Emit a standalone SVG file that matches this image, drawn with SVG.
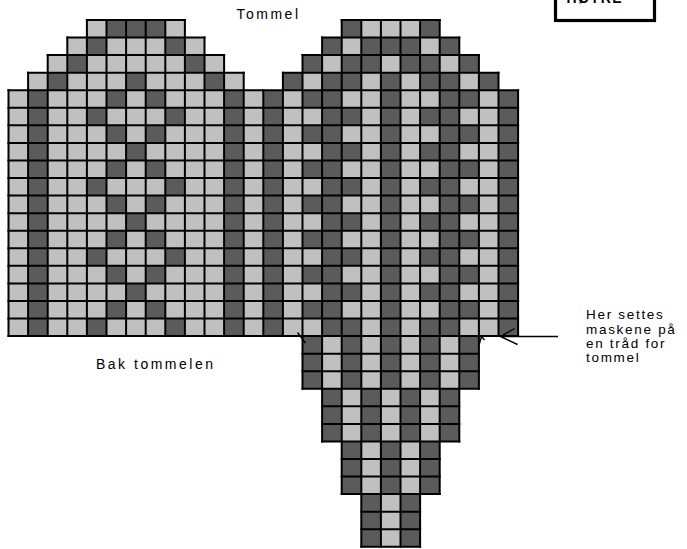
<svg xmlns="http://www.w3.org/2000/svg" width="687" height="549" viewBox="0 0 687 549">
<style>
.l{fill:#c0c0c0}
.d{fill:#5b5b5b}
.g{fill:none;stroke:#000;stroke-width:2;stroke-linecap:square}
.t{font-family:"Liberation Sans",Arial,sans-serif;font-size:14px;fill:#000}
.r{font-family:"Liberation Sans",Arial,sans-serif;font-size:13.5px;fill:#000;letter-spacing:1.7px}
.a{fill:none;stroke:#000;stroke-width:1.4}
</style>
<rect width="687" height="549" fill="#fff"/>
<g id="chart" transform="translate(8.5 20) scale(19.6 17.56)">
<polygon class="l" points="0,4 1,4 1,3 2,3 2,2 3,2 3,1 4,1 4,0 9,0 9,1 10,1 10,2 11,2 11,3 12,3 12,4 14,4 14,3 15,3 15,2 16,2 16,1 17,1 17,0 22,0 22,1 23,1 23,2 24,2 24,3 25,3 25,4 26,4 26,18 24,18 24,21 23,21 23,24 22,24 22,27 21,27 21,30 18,30 18,27 17,27 17,24 16,24 16,21 15,21 15,18 0,18"/>
<g id="dark">
<rect class="d" x="5" y="0" width="3" height="1"/>
<rect class="d" x="4" y="1" width="1" height="1"/><rect class="d" x="8" y="1" width="1" height="1"/>
<rect class="d" x="3" y="2" width="1" height="1"/><rect class="d" x="9" y="2" width="1" height="1"/>
<rect class="d" x="2" y="3" width="1" height="1"/><rect class="d" x="6" y="3" width="1" height="1"/><rect class="d" x="10" y="3" width="1" height="1"/>
<rect class="d" x="1" y="4" width="1" height="14"/>
<rect class="d" x="11" y="4" width="1" height="14"/>
<rect class="d" x="13" y="4" width="1" height="14"/>
<rect class="d" x="5" y="4" width="1" height="1"/><rect class="d" x="7" y="4" width="1" height="1"/>
<rect class="d" x="4" y="5" width="1" height="1"/><rect class="d" x="8" y="5" width="1" height="1"/>
<rect class="d" x="5" y="6" width="1" height="1"/><rect class="d" x="7" y="6" width="1" height="1"/>
<rect class="d" x="6" y="7" width="1" height="1"/>
<rect class="d" x="5" y="8" width="1" height="1"/><rect class="d" x="7" y="8" width="1" height="1"/>
<rect class="d" x="4" y="9" width="1" height="1"/><rect class="d" x="8" y="9" width="1" height="1"/>
<rect class="d" x="5" y="10" width="1" height="1"/><rect class="d" x="7" y="10" width="1" height="1"/>
<rect class="d" x="6" y="11" width="1" height="1"/>
<rect class="d" x="5" y="12" width="1" height="1"/><rect class="d" x="7" y="12" width="1" height="1"/>
<rect class="d" x="4" y="13" width="1" height="1"/><rect class="d" x="8" y="13" width="1" height="1"/>
<rect class="d" x="5" y="14" width="1" height="1"/><rect class="d" x="7" y="14" width="1" height="1"/>
<rect class="d" x="6" y="15" width="1" height="1"/>
<rect class="d" x="5" y="16" width="1" height="1"/><rect class="d" x="7" y="16" width="1" height="1"/>
<rect class="d" x="4" y="17" width="1" height="1"/><rect class="d" x="8" y="17" width="1" height="1"/>
<rect class="d" x="17" y="0" width="1" height="1"/><rect class="d" x="21" y="0" width="1" height="1"/>
<rect class="d" x="16" y="1" width="1" height="1"/><rect class="d" x="18" y="1" width="3" height="1"/><rect class="d" x="22" y="1" width="1" height="1"/>
<rect class="d" x="15" y="2" width="1" height="1"/><rect class="d" x="17" y="2" width="2" height="1"/><rect class="d" x="20" y="2" width="2" height="1"/><rect class="d" x="23" y="2" width="1" height="1"/>
<rect class="d" x="14" y="3" width="1" height="1"/><rect class="d" x="16" y="3" width="2" height="1"/><rect class="d" x="19" y="3" width="1" height="1"/><rect class="d" x="21" y="3" width="2" height="1"/><rect class="d" x="24" y="3" width="1" height="1"/>
<rect class="d" x="16" y="4" width="1" height="14"/>
<rect class="d" x="19" y="4" width="1" height="14"/>
<rect class="d" x="22" y="4" width="1" height="14"/>
<rect class="d" x="25" y="4" width="1" height="14"/>
<rect class="d" x="15" y="4" width="1" height="1"/><rect class="d" x="23" y="4" width="1" height="1"/>
<rect class="d" x="15" y="6" width="1" height="1"/><rect class="d" x="23" y="6" width="1" height="1"/>
<rect class="d" x="15" y="8" width="1" height="1"/><rect class="d" x="23" y="8" width="1" height="1"/>
<rect class="d" x="15" y="10" width="1" height="1"/><rect class="d" x="23" y="10" width="1" height="1"/>
<rect class="d" x="15" y="12" width="1" height="1"/><rect class="d" x="23" y="12" width="1" height="1"/>
<rect class="d" x="15" y="14" width="1" height="1"/><rect class="d" x="23" y="14" width="1" height="1"/>
<rect class="d" x="15" y="16" width="1" height="1"/><rect class="d" x="23" y="16" width="1" height="1"/>
<rect class="d" x="17" y="5" width="1" height="1"/><rect class="d" x="21" y="5" width="1" height="1"/>
<rect class="d" x="17" y="7" width="1" height="1"/><rect class="d" x="21" y="7" width="1" height="1"/>
<rect class="d" x="17" y="9" width="1" height="1"/><rect class="d" x="21" y="9" width="1" height="1"/>
<rect class="d" x="17" y="11" width="1" height="1"/><rect class="d" x="21" y="11" width="1" height="1"/>
<rect class="d" x="17" y="13" width="1" height="1"/><rect class="d" x="21" y="13" width="1" height="1"/>
<rect class="d" x="17" y="15" width="1" height="1"/><rect class="d" x="21" y="15" width="1" height="1"/>
<rect class="d" x="17" y="17" width="1" height="1"/><rect class="d" x="21" y="17" width="1" height="1"/>
<rect class="d" x="15" y="18" width="1" height="3"/><rect class="d" x="17" y="18" width="1" height="3"/><rect class="d" x="19" y="18" width="1" height="3"/><rect class="d" x="21" y="18" width="1" height="3"/><rect class="d" x="23" y="18" width="1" height="3"/>
<rect class="d" x="16" y="21" width="1" height="3"/><rect class="d" x="18" y="21" width="1" height="3"/><rect class="d" x="20" y="21" width="1" height="3"/><rect class="d" x="22" y="21" width="1" height="3"/>
<rect class="d" x="17" y="24" width="1" height="3"/><rect class="d" x="19" y="24" width="1" height="3"/><rect class="d" x="21" y="24" width="1" height="3"/>
<rect class="d" x="18" y="27" width="1" height="3"/><rect class="d" x="20" y="27" width="1" height="3"/>
</g>
<path class="g" vector-effect="non-scaling-stroke" d="M4 0H9M17 0H22M3 1H10M16 1H23M2 2H11M15 2H24M1 3H12M14 3H25M0 4H26M0 5H26M0 6H26M0 7H26M0 8H26M0 9H26M0 10H26M0 11H26M0 12H26M0 13H26M0 14H26M0 15H26M0 16H26M0 17H26M0 18H26M15 19H24M15 20H24M15 21H24M16 22H23M16 23H23M16 24H23M17 25H22M17 26H22M17 27H22M18 28H21M18 29H21M18 30H21"/>
<path class="g" vector-effect="non-scaling-stroke" d="M0 4V18M1 3V18M2 2V18M3 1V18M4 0V18M5 0V18M6 0V18M7 0V18M8 0V18M9 0V18M10 1V18M11 2V18M12 3V18M13 4V18M14 3V18M15 2V21M16 1V24M17 0V27M18 0V30M19 0V30M20 0V30M21 0V30M22 0V27M23 1V24M24 2V21M25 3V18M26 4V18"/>
</g>
<g id="connectors">
<path class="a" d="M297.5 332.5L305.5 343"/>
<path class="a" d="M481.5 336.5L479 345M481.5 336.5L484.5 340"/>
<path class="a" d="M500.5 336.5H558M500.5 336.5L514.5 328.5M500.5 336.5L517.5 344.5"/>
</g>
<g id="labels">
<text class="t" x="236.5" y="18.5" style="letter-spacing:2.5px">Tommel</text>
<text class="t" x="96" y="369" style="letter-spacing:2.5px">Bak tommelen</text>
<text class="r" x="586" y="319">Her settes</text>
<text class="r" x="586" y="334">maskene på</text>
<text class="r" x="586" y="348">en tråd for</text>
<text class="r" x="586" y="362">tommel</text>
</g>
<g id="box">
<rect x="555.5" y="-20" width="99" height="40.5" fill="#fff" stroke="#000" stroke-width="3.2"/>
<text class="t" x="566.5" y="2.5" style="font-weight:bold;letter-spacing:1.3px">HØYRE</text>
</g>
</svg>
